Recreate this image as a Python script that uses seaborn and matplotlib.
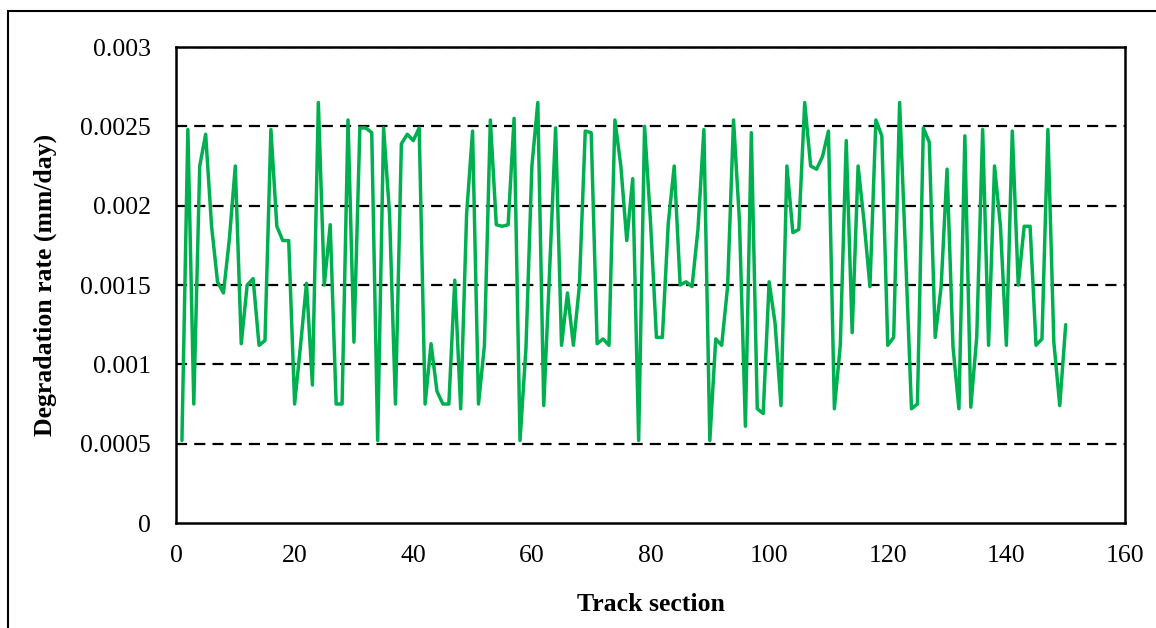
import matplotlib
matplotlib.use("Agg")
import matplotlib.pyplot as plt
import seaborn as sns
import pandas as pd
import numpy as np
from matplotlib.patches import Rectangle

# Data
track_section = list(range(1, 151))
degradation_rate = [
    0.00052, 0.00248, 0.00075, 0.00225, 0.00245, 0.00187, 0.00152, 0.00145, 0.00179, 0.00225,
    0.00113, 0.00150, 0.00154, 0.00112, 0.00115, 0.00248, 0.00187, 0.00178, 0.00178, 0.00075,
    0.00112, 0.00151, 0.00087, 0.00265, 0.00150, 0.00188, 0.00075, 0.00075, 0.00254, 0.00114,
    0.00249, 0.00249, 0.00246, 0.00052, 0.00249, 0.00195, 0.00075, 0.00239, 0.00245, 0.00241,
    0.00249, 0.00075, 0.00113, 0.00083, 0.00075, 0.00075, 0.00153, 0.00072, 0.00195, 0.00247,
    0.00075, 0.00112, 0.00254, 0.00188, 0.00187, 0.00188, 0.00255, 0.00052, 0.00110, 0.00225,
    0.00265, 0.00074, 0.00160, 0.00249, 0.00112, 0.00145, 0.00112, 0.00149, 0.00247, 0.00246,
    0.00113, 0.00116, 0.00112, 0.00254, 0.00225, 0.00178, 0.00217, 0.00052, 0.00250, 0.00190,
    0.00117, 0.00117, 0.00189, 0.00225, 0.00150, 0.00152, 0.00149, 0.00185, 0.00248, 0.00052,
    0.00116, 0.00112, 0.00149, 0.00254, 0.00190, 0.00061, 0.00246, 0.00072, 0.00069, 0.00152,
    0.00126, 0.00074, 0.00225, 0.00183, 0.00185, 0.00265, 0.00225, 0.00223, 0.00231, 0.00247,
    0.00072, 0.00112, 0.00241, 0.00120, 0.00225, 0.00190, 0.00149, 0.00254, 0.00244, 0.00112,
    0.00117, 0.00265, 0.00170, 0.00072, 0.00075, 0.00249, 0.00240, 0.00117, 0.00149, 0.00223,
    0.00111, 0.00072, 0.00244, 0.00073, 0.00117, 0.00248, 0.00112, 0.00225, 0.00187, 0.00112,
    0.00247, 0.00150, 0.00187, 0.00187, 0.00112, 0.00116, 0.00248, 0.00114, 0.00074, 0.00125,
]
x_ticks = [0, 20, 40, 60, 80, 100, 120, 140, 160]
y_ticks = [0, 0.0005, 0.001, 0.0015, 0.002, 0.0025, 0.003]
y_tick_labels = ["0", "0.0005", "0.001", "0.0015", "0.002", "0.0025", "0.003"]
x_label = "Track section"
y_label = "Degradation rate (mm/day)"

sns.set_style("white")
plt.rcParams["font.family"] = ["Liberation Serif", "DejaVu Serif"]
plt.rcParams["text.color"] = "black"
plt.rcParams["axes.labelcolor"] = "black"
plt.rcParams["xtick.color"] = "black"
plt.rcParams["ytick.color"] = "black"

df = pd.DataFrame({"section": track_section, "rate": degradation_rate})

fig = plt.figure(figsize=(11.56, 6.28), dpi=100)
ax = fig.add_axes([176 / 1156, 1 - 523 / 628, (1125 - 176) / 1156, (523 - 47) / 628])

# dashed horizontal gridlines
for yv in y_ticks[1:]:
    ax.axhline(yv, color="black", lw=1.6, ls=(0, (5, 3.2)), zorder=1)

sns.lineplot(data=df, x="section", y="rate", ax=ax, color="#00B050", lw=2.5, zorder=3)

ax.set_xlim(0, 160)
ax.set_ylim(0, 0.003)
ax.set_xticks(x_ticks)
ax.set_xticklabels([str(t) for t in x_ticks])
ax.set_yticks(y_ticks)
ax.set_yticklabels(y_tick_labels)

for s in ax.spines.values():
    s.set_visible(True)
    s.set_color("black")
    s.set_linewidth(1.8)

ax.tick_params(axis="both", direction="in", length=6, width=1.8, labelsize=18.5,
               color="black", labelcolor="black")
ax.tick_params(axis="x", pad=16)
ax.tick_params(axis="y", pad=18)

ax.set_xlabel(x_label, fontsize=18.5, fontweight="bold", color="black")
ax.set_ylabel(y_label, fontsize=18.5, fontweight="bold", color="black")
ax.xaxis.set_label_coords(0.5, -0.148)
ax.yaxis.set_label_coords(-0.125, 0.5)

# outer frame of the figure (left and top edges visible)
fig.patches.append(Rectangle((8 / 1156, -0.1), 1.2, 1 - 11 / 628 + 0.1,
                             transform=fig.transFigure, fill=False,
                             edgecolor="black", lw=1.5, zorder=0))

fig.savefig("out.png", dpi=100)
